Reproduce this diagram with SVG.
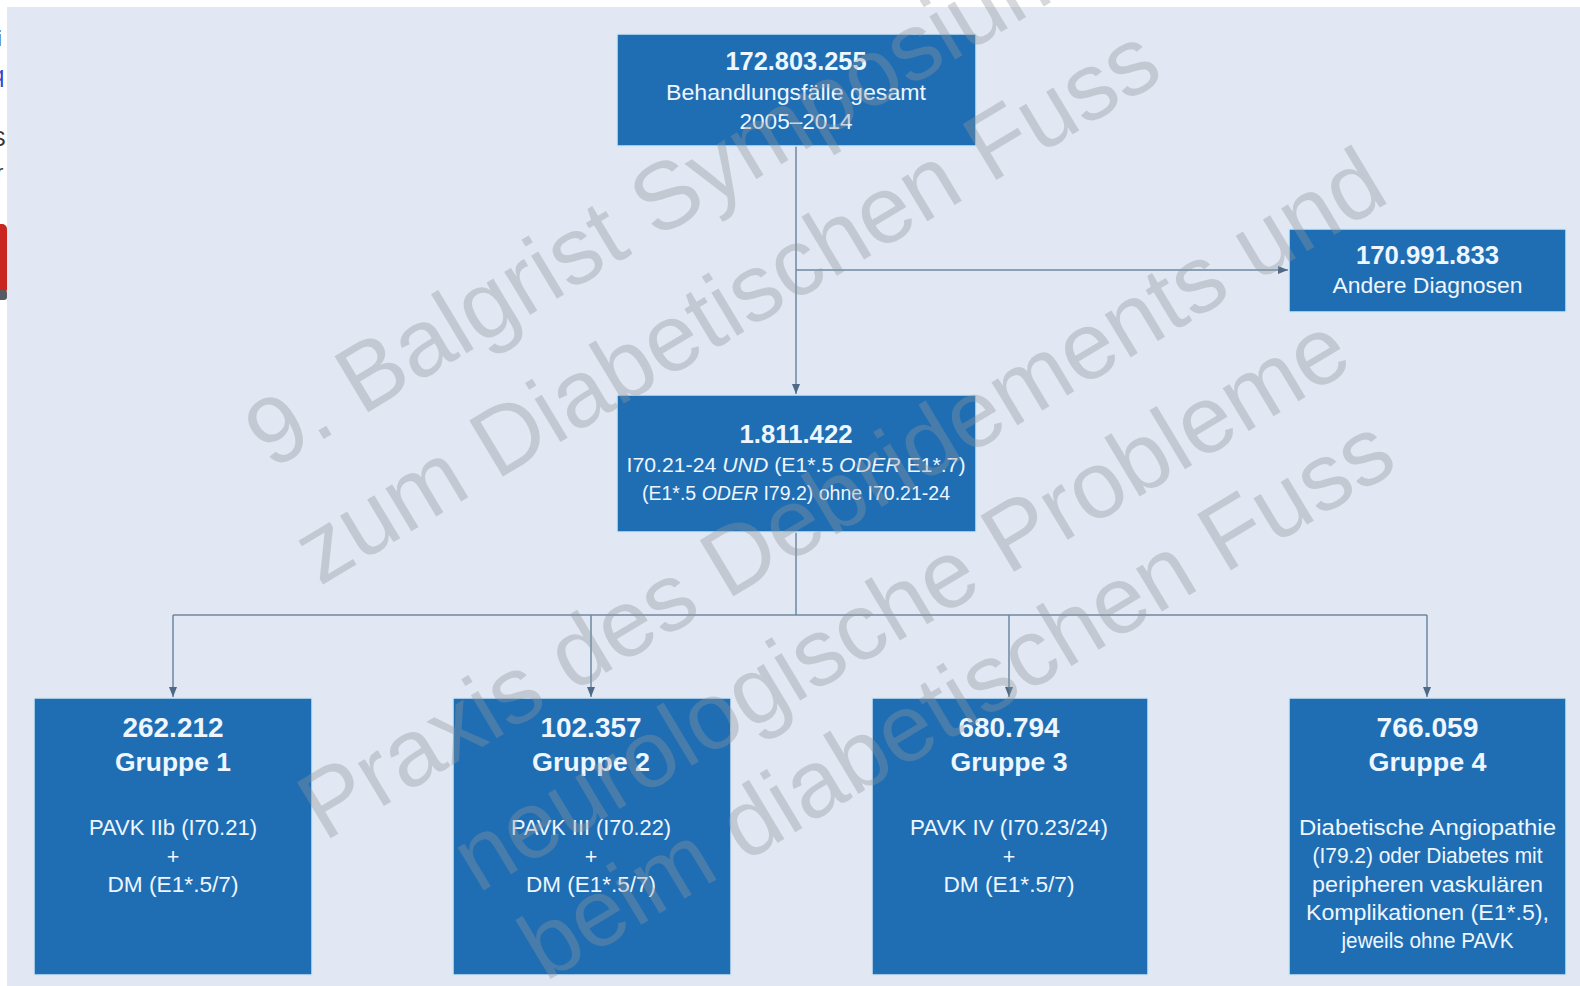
<svg xmlns="http://www.w3.org/2000/svg" width="1580" height="986" viewBox="0 0 1580 986">
<defs>
<style>
.bg{fill:#e1e8f3}
.box{fill:#1f6eb4;stroke:#cfe6f6;stroke-width:1.5}
.t{font-family:"Liberation Sans",Arial,sans-serif;fill:#eef6ff;text-anchor:middle}
.b{font-weight:bold}
.conn{fill:none;stroke:#6d88a3;stroke-width:1.5}
.wm{font-family:"Liberation Sans",Arial,sans-serif;font-size:95px;fill:#8f959c;opacity:0.36;text-anchor:middle;dominant-baseline:central}
.frag{font-family:"Liberation Sans",Arial,sans-serif;font-size:22px}
</style>
<marker id="arr" markerUnits="userSpaceOnUse" markerWidth="10" markerHeight="8" refX="10" refY="4" orient="auto">
<path d="M0,0 L10,4 L0,8 z" fill="#4f6a86"/>
</marker>
</defs>
<rect x="0" y="0" width="1580" height="986" fill="#ffffff"/>
<rect class="bg" x="7" y="7" width="1573" height="979"/>
<g id="left-fragments">
<text class="frag" x="-3" y="46" fill="#333333">i</text>
<text class="frag" x="-8" y="82" fill="#3344cc">q</text>
<text class="frag" x="-9" y="146" fill="#333333">S</text>
<text class="frag" x="-4" y="180" fill="#333333">r</text>
<rect x="-6" y="224" width="13" height="70" rx="5" fill="#c8261e"/>
<rect x="-6" y="290" width="13" height="10" rx="3" fill="#555b63"/>
</g>
<g id="connectors">
<path class="conn" d="M796,146 V394" marker-end="url(#arr)"/>
<path class="conn" d="M796,270 H1288" marker-end="url(#arr)"/>
<path class="conn" d="M796,532 V615"/>
<path class="conn" d="M173,615 H1427"/>
<path class="conn" d="M173,615 V697" marker-end="url(#arr)"/>
<path class="conn" d="M591,615 V697" marker-end="url(#arr)"/>
<path class="conn" d="M1009,615 V697" marker-end="url(#arr)"/>
<path class="conn" d="M1427,615 V697" marker-end="url(#arr)"/>
</g>
<g id="node-total">
<rect class="box" x="617" y="34" width="359" height="112"/>
<text class="t b" x="796" y="70" font-size="25" textLength="141" lengthAdjust="spacingAndGlyphs">172.803.255</text>
<text class="t" x="796" y="100" font-size="22" textLength="260" lengthAdjust="spacingAndGlyphs">Behandlungsfälle gesamt</text>
<text class="t" x="796" y="129" font-size="22" textLength="113" lengthAdjust="spacingAndGlyphs">2005–2014</text>
</g>
<g id="node-other">
<rect class="box" x="1289" y="229" width="277" height="83"/>
<text class="t b" x="1427.5" y="264" font-size="25" textLength="143" lengthAdjust="spacingAndGlyphs">170.991.833</text>
<text class="t" x="1427.5" y="293" font-size="22.5" textLength="190" lengthAdjust="spacingAndGlyphs">Andere Diagnosen</text>
</g>
<g id="node-selected">
<rect class="box" x="617" y="395" width="359" height="137"/>
<text class="t b" x="796" y="443" font-size="25" textLength="113" lengthAdjust="spacingAndGlyphs">1.811.422</text>
<text class="t" x="796" y="472" font-size="21" textLength="339" lengthAdjust="spacingAndGlyphs">I70.21-24 <tspan font-style="italic">UND</tspan> (E1*.5 <tspan font-style="italic">ODER</tspan> E1*.7)</text>
<text class="t" x="796" y="500" font-size="20" textLength="308" lengthAdjust="spacingAndGlyphs">(E1*.5 <tspan font-style="italic">ODER</tspan> I79.2) ohne I70.21-24</text>
</g>
<g id="node-g1">
<rect class="box" x="34" y="698" width="278" height="277"/>
<text class="t b" x="173" y="737" font-size="28" textLength="101" lengthAdjust="spacingAndGlyphs">262.212</text>
<text class="t b" x="173" y="771" font-size="26.5" textLength="116" lengthAdjust="spacingAndGlyphs">Gruppe 1</text>
<text class="t" x="173" y="835" font-size="21.5" textLength="168" lengthAdjust="spacingAndGlyphs">PAVK IIb (I70.21)</text>
<text class="t" x="173" y="864" font-size="21.5">+</text>
<text class="t" x="173" y="892" font-size="21.5" textLength="131" lengthAdjust="spacingAndGlyphs">DM (E1*.5/7)</text>
</g>
<g id="node-g2">
<rect class="box" x="453" y="698" width="278" height="277"/>
<text class="t b" x="591" y="737" font-size="28" textLength="101" lengthAdjust="spacingAndGlyphs">102.357</text>
<text class="t b" x="591" y="771" font-size="26.5" textLength="118" lengthAdjust="spacingAndGlyphs">Gruppe 2</text>
<text class="t" x="591" y="835" font-size="21.5" textLength="160" lengthAdjust="spacingAndGlyphs">PAVK III (I70.22)</text>
<text class="t" x="591" y="864" font-size="21.5">+</text>
<text class="t" x="591" y="892" font-size="21.5" textLength="130" lengthAdjust="spacingAndGlyphs">DM (E1*.5/7)</text>
</g>
<g id="node-g3">
<rect class="box" x="872" y="698" width="276" height="277"/>
<text class="t b" x="1009" y="737" font-size="28" textLength="101" lengthAdjust="spacingAndGlyphs">680.794</text>
<text class="t b" x="1009" y="771" font-size="26.5" textLength="117" lengthAdjust="spacingAndGlyphs">Gruppe 3</text>
<text class="t" x="1009" y="835" font-size="21.5" textLength="198" lengthAdjust="spacingAndGlyphs">PAVK IV (I70.23/24)</text>
<text class="t" x="1009" y="864" font-size="21.5">+</text>
<text class="t" x="1009" y="892" font-size="21.5" textLength="131" lengthAdjust="spacingAndGlyphs">DM (E1*.5/7)</text>
</g>
<g id="node-g4">
<rect class="box" x="1289" y="698" width="277" height="277"/>
<text class="t b" x="1427.5" y="737" font-size="28" textLength="102" lengthAdjust="spacingAndGlyphs">766.059</text>
<text class="t b" x="1427.5" y="771" font-size="26.5" textLength="118" lengthAdjust="spacingAndGlyphs">Gruppe 4</text>
<text class="t" x="1427.5" y="835" font-size="22" textLength="257" lengthAdjust="spacingAndGlyphs">Diabetische Angiopathie</text>
<text class="t" x="1427.5" y="863" font-size="22" textLength="230" lengthAdjust="spacingAndGlyphs">(I79.2) oder Diabetes mit</text>
<text class="t" x="1427.5" y="892" font-size="22" textLength="231" lengthAdjust="spacingAndGlyphs">peripheren vaskulären</text>
<text class="t" x="1427.5" y="920" font-size="22" textLength="243" lengthAdjust="spacingAndGlyphs">Komplikationen (E1*.5),</text>
<text class="t" x="1427.5" y="948" font-size="22" textLength="172" lengthAdjust="spacingAndGlyphs">jeweils ohne PAVK</text>
</g>
<g id="watermark">
<text class="wm" x="659" y="199" transform="rotate(-31 659 199)">9. Balgrist Symposium</text>
<text class="wm" x="726" y="304" font-size="97" transform="rotate(-31 726 304)">zum Diabetischen Fuss</text>
<text class="wm" x="841" y="493" font-size="96" transform="rotate(-31 841 493)">Praxis des Debridements und</text>
<text class="wm" x="900" y="602" transform="rotate(-31 900 602)">neurologische Probleme</text>
<text class="wm" x="956" y="697" transform="rotate(-31 956 697)">beim diabetischen Fuss</text>
</g>
</svg>
